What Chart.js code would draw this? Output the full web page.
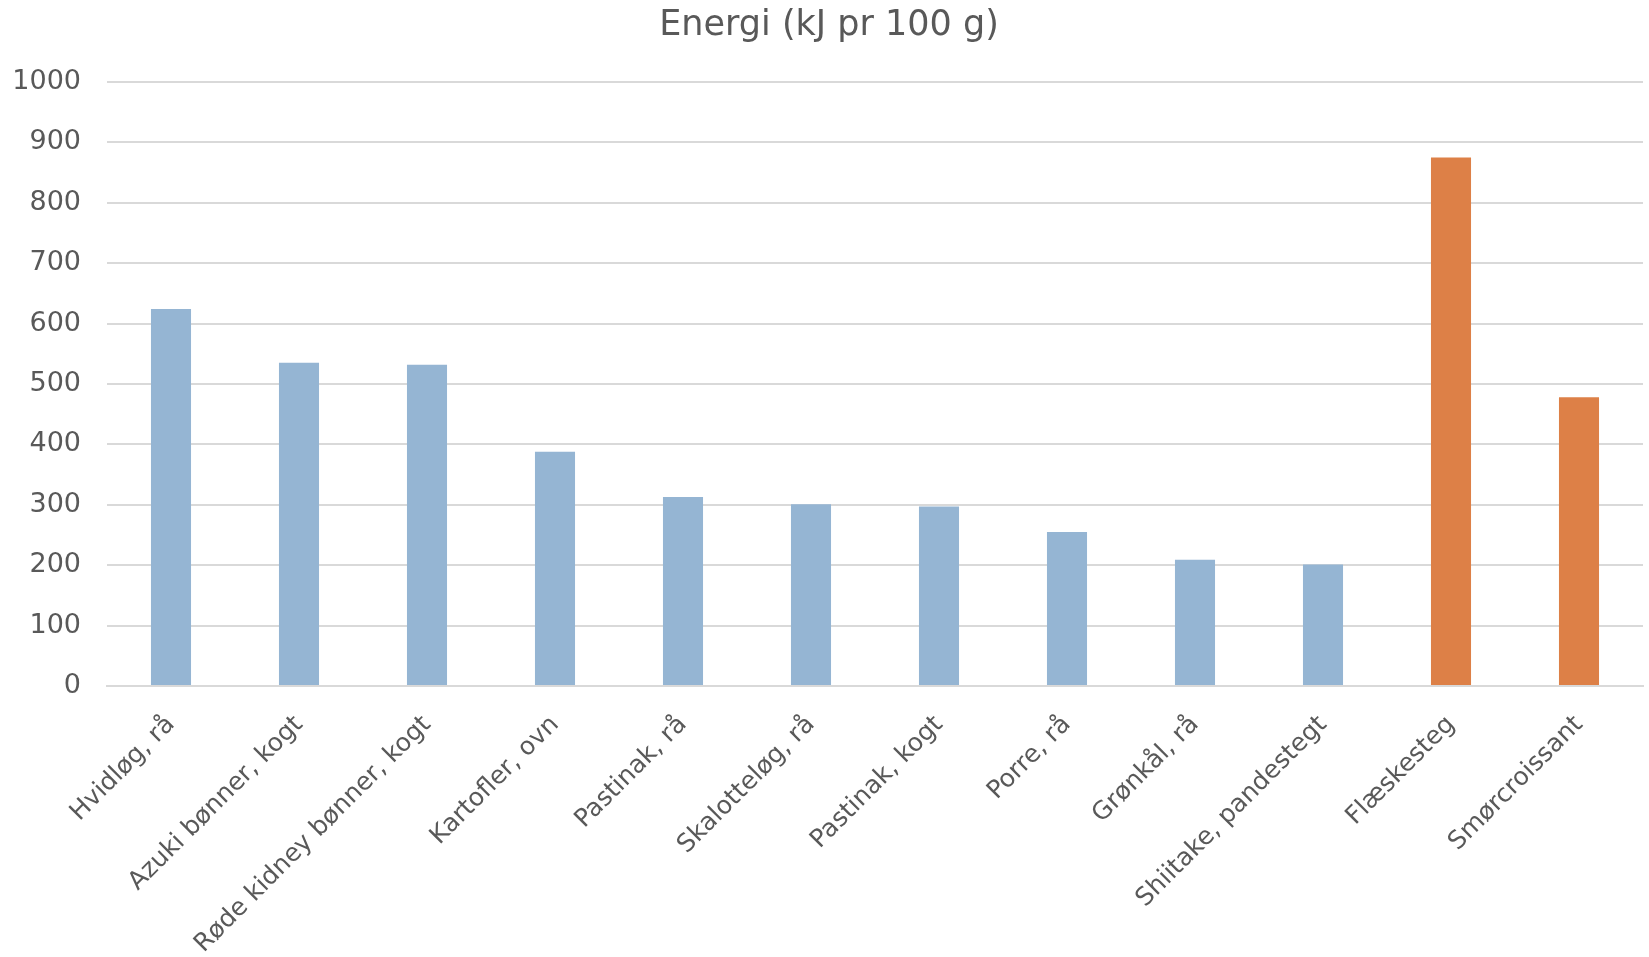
<!DOCTYPE html>
<html lang="da">
  <head>
    <meta charset="UTF-8" />
    <title>Energi (kJ pr 100 g)</title>
    <script src="https://cdn.jsdelivr.net/npm/chart.js"></script>
    <style>
      html, body { margin: 0; padding: 0; background: #fff; }
      .chart-box { width: 1649px; height: 957px; }
    </style>
  </head>
  <body>
    <div class="chart-box">
      <canvas id="energyChart"></canvas>
    </div>

    <script>
      // Fødevarer og energiindhold
      const foods = [
        "Hvidløg, rå",
        "Azuki bønner, kogt",
        "Røde kidney bønner, kogt",
        "Kartofler, ovn",
        "Pastinak, rå",
        "Skalotteløg, rå",
        "Pastinak, kogt",
        "Porre, rå",
        "Grønkål, rå",
        "Shiitake, pandestegt",
        "Flæskesteg",
        "Smørcroissant",
      ];
      const energy = [624, 535, 532, 388, 313, 301, 297, 255, 209, 201, 875, 478];
      // grøntsager = 0, sammenligning = 1
      const group = [0, 0, 0, 0, 0, 0, 0, 0, 0, 0, 1, 1];
      const yTicks = [0, 100, 200, 300, 400, 500, 600, 700, 800, 900, 1000];

      const groupColors = ["#95b5d3", "#dd8047"];
      const textColor = "#595959";
      const fontFamily = "'DejaVu Sans', sans-serif";

      new Chart(document.getElementById("energyChart"), {
        type: "bar",
        data: {
          labels: foods,
          datasets: [
            {
              label: "Energi",
              data: energy,
              backgroundColor: group.map((g) => groupColors[g]),
              borderWidth: 0,
              categoryPercentage: 1,
              barPercentage: 0.313,
            },
          ],
        },
        options: {
          responsive: true,
          maintainAspectRatio: false,
          animation: false,
          layout: {
            padding: { left: 15, right: 6, top: 0, bottom: 0 },
          },
          plugins: {
            legend: { display: false },
            tooltip: { enabled: false },
            title: {
              display: true,
              text: "Energi (kJ pr 100 g)",
              color: textColor,
              font: { family: fontFamily, size: 35, weight: "normal" },
              padding: { top: 5, bottom: 35 },
            },
          },
          scales: {
            x: {
              grid: { display: false },
              border: { color: "#d9d9d9", width: 2 },
              ticks: {
                color: textColor,
                font: { family: fontFamily, size: 25 },
                maxRotation: 45,
                minRotation: 45,
                autoSkip: false,
                padding: 16,
              },
              // skrå etiketter må gerne stikke ud til siderne
              afterFit: (scale) => {
                scale.paddingLeft = 0;
                scale.paddingRight = 0;
                scale.height = 271;
              },
            },
            y: {
              min: yTicks[0],
              max: yTicks[yTicks.length - 1],
              afterBuildTicks: (axis) => {
                axis.ticks = yTicks.map((v) => ({ value: v }));
              },
              // kun etiketbredde + afstand til gitteret
              afterFit: (scale) => {
                scale.width = 92;
              },
              grid: { color: "#d9d9d9", lineWidth: 2, drawTicks: false },
              border: { display: false },
              ticks: {
                color: textColor,
                font: { family: fontFamily, size: 27 },
                padding: 26,
                callback: (v) => String(v),
              },
            },
          },
        },
      });
    </script>
  </body>
</html>
